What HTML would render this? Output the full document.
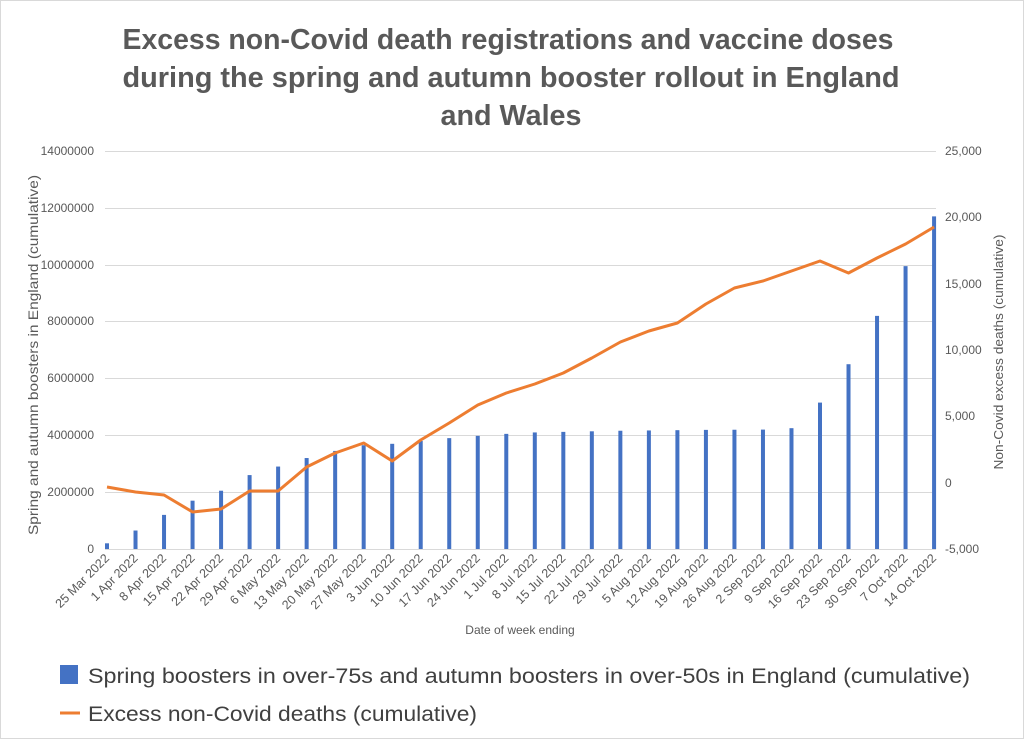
<!DOCTYPE html>
<html><head><meta charset="utf-8"><style>
body{margin:0;background:#fff}
svg{display:block;font-family:"Liberation Sans",sans-serif}
</style></head><body>
<svg width="1024" height="739" viewBox="0 0 1024 739">
<rect x="0.5" y="0.5" width="1023" height="738" fill="#fff" stroke="#d9d9d9"/>
<g fill="#595959" font-weight="bold" font-size="29" text-anchor="middle">
<text x="508" y="49" textLength="771" lengthAdjust="spacingAndGlyphs">Excess non-Covid death registrations and vaccine doses</text>
<text x="511" y="87" textLength="777" lengthAdjust="spacingAndGlyphs">during the spring and autumn booster rollout in England</text>
<text x="511" y="125" textLength="141" lengthAdjust="spacingAndGlyphs">and Wales</text>
</g>
<g stroke="#d9d9d9" stroke-width="1">
<line x1="105" x2="936" y1="151.5" y2="151.5"/><line x1="105" x2="936" y1="208.5" y2="208.5"/>
<line x1="105" x2="936" y1="265.5" y2="265.5"/><line x1="105" x2="936" y1="321.5" y2="321.5"/>
<line x1="105" x2="936" y1="378.5" y2="378.5"/><line x1="105" x2="936" y1="435.5" y2="435.5"/>
<line x1="105" x2="936" y1="492.5" y2="492.5"/><line x1="105" x2="936" y1="549.5" y2="549.5"/>
</g>
<g fill="#595959" font-size="12" text-anchor="end">
<text x="94" y="155">14000000</text><text x="94" y="212">12000000</text><text x="94" y="269">10000000</text>
<text x="94" y="325">8000000</text><text x="94" y="382">6000000</text><text x="94" y="439">4000000</text>
<text x="94" y="496">2000000</text><text x="94" y="553">0</text>
</g>
<g fill="#595959" font-size="12">
<text x="945" y="155">25,000</text><text x="945" y="221">20,000</text><text x="945" y="288">15,000</text>
<text x="945" y="354">10,000</text><text x="945" y="420">5,000</text><text x="945" y="487">0</text>
<text x="945" y="553">-5,000</text>
</g>
<text transform="translate(38,355) rotate(-90)" text-anchor="middle" fill="#595959" font-size="14" textLength="360" lengthAdjust="spacingAndGlyphs">Spring and autumn boosters in England (cumulative)</text>
<text transform="translate(1003,352) rotate(-90)" text-anchor="middle" fill="#595959" font-size="13" textLength="235" lengthAdjust="spacingAndGlyphs">Non-Covid excess deaths (cumulative)</text>
<text x="520" y="634" text-anchor="middle" fill="#595959" font-size="12">Date of week ending</text>
<g id="bars" fill="#4472c4"></g>
<polyline id="ln" fill="none" stroke="#ed7d31" stroke-width="3" stroke-linejoin="round"/>
<g id="xl" fill="#595959" font-size="12.5" text-anchor="end"></g>
<rect x="60" y="665" width="18" height="19" fill="#4472c4"/>
<text x="88" y="683" fill="#404040" font-size="21" textLength="882" lengthAdjust="spacingAndGlyphs">Spring boosters in over-75s and autumn boosters in over-50s in England (cumulative)</text>
<line x1="60" x2="80" y1="713" y2="713" stroke="#ed7d31" stroke-width="3"/>
<text x="88" y="721" fill="#404040" font-size="21" textLength="389" lengthAdjust="spacingAndGlyphs">Excess non-Covid deaths (cumulative)</text>
</svg>
<script>
var v=[200000,650000,1200000,1700000,2050000,2600000,2900000,3200000,3450000,3650000,3700000,3800000,3900000,3980000,4050000,4100000,4120000,4140000,4160000,4170000,4180000,4190000,4195000,4200000,4250000,5150000,6500000,8200000,9950000,11700000];
var ly=[487,492,495,512,509,491,491,467,453,443,461,440,423,405,393,384,373,358,342,331,323,304,288,281,271,261,273,258,244,227];
var lab=["25 Mar 2022","1 Apr 2022","8 Apr 2022","15 Apr 2022","22 Apr 2022","29 Apr 2022","6 May 2022","13 May 2022","20 May 2022","27 May 2022","3 Jun 2022","10 Jun 2022","17 Jun 2022","24 Jun 2022","1 Jul 2022","8 Jul 2022","15 Jul 2022","22 Jul 2022","29 Jul 2022","5 Aug 2022","12 Aug 2022","19 Aug 2022","26 Aug 2022","2 Sep 2022","9 Sep 2022","16 Sep 2022","23 Sep 2022","30 Sep 2022","7 Oct 2022","14 Oct 2022"];
var ns="http://www.w3.org/2000/svg",b=document.getElementById("bars"),xl=document.getElementById("xl"),pts=[];
for(var i=0;i<30;i++){var x=107+i*28.52;var h=v[i]/14000000*398;
var r=document.createElementNS(ns,"rect");r.setAttribute("x",x-2);r.setAttribute("y",549-h);r.setAttribute("width",4);r.setAttribute("height",h);b.appendChild(r);
pts.push(x.toFixed(1)+","+ly[i]);
var t=document.createElementNS(ns,"text");t.setAttribute("transform","translate("+(x+3)+",559) rotate(-45)");t.textContent=lab[i];xl.appendChild(t);}
document.getElementById("ln").setAttribute("points",pts.join(" "));
</script>
</body></html>
